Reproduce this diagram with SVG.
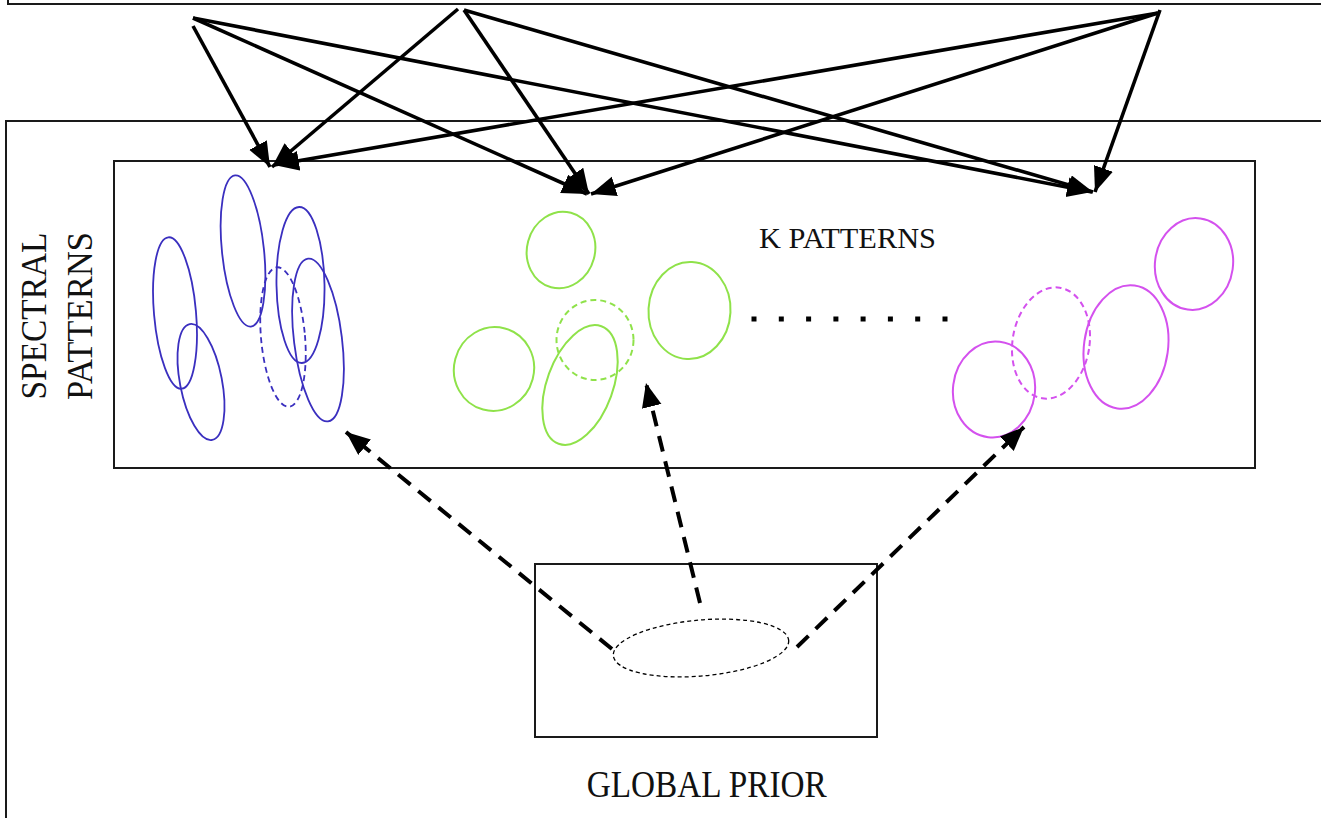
<svg xmlns="http://www.w3.org/2000/svg" width="1321" height="818" viewBox="0 0 1321 818">
<style>
.box{fill:none;stroke:#1a1a1a;stroke-width:2}
.lbl{font-family:"Liberation Serif","DejaVu Serif",serif;fill:#111}
.sol{fill:none;stroke:#000;stroke-width:3.6;marker-end:url(#ah)}
.dsh{fill:none;stroke:#000;stroke-width:4;stroke-dasharray:16 10;marker-end:url(#ah2)}
.bl{fill:none;stroke:#3a2fbf;stroke-width:1.8}
.gr{fill:none;stroke:#8fe24a;stroke-width:2}
.mg{fill:none;stroke:#d451ee;stroke-width:2}
.dd{stroke-dasharray:6 4}
</style>
<defs>
<marker id="ah" markerUnits="userSpaceOnUse" markerWidth="28" markerHeight="22" refX="25" refY="10" orient="auto"><path d="M0,0 L25,10 L0,20 z" fill="#000"/></marker>
<marker id="ah2" markerUnits="userSpaceOnUse" markerWidth="28" markerHeight="22" refX="24" refY="10" orient="auto"><path d="M0,0 L24,10 L0,20 z" fill="#000"/></marker>
</defs>
<rect width="1321" height="818" fill="#fff"/>
<g id="top-box"><rect class="box" x="8" y="-10" width="1330" height="14"/></g>
<g id="outer-box"><rect class="box" x="6" y="121" width="1330" height="710"/></g>
<g id="spectral-patterns">
<rect class="box" x="114" y="161" width="1141" height="307"/>
<text class="lbl" font-size="36" text-anchor="middle" transform="translate(46,316) rotate(-90)" textLength="167" lengthAdjust="spacingAndGlyphs">SPECTRAL</text>
<text class="lbl" font-size="36" text-anchor="middle" transform="translate(92,316) rotate(-90)" textLength="168" lengthAdjust="spacingAndGlyphs">PATTERNS</text>
<text class="lbl" x="759" y="248" font-size="30" textLength="177" lengthAdjust="spacingAndGlyphs">K PATTERNS</text>
</g>
<g id="blue-pattern">
<ellipse class="bl" cx="175" cy="313" rx="21" ry="76" transform="rotate(-5 175 313)"/>
<ellipse class="bl" cx="201" cy="382" rx="21" ry="59" transform="rotate(-11 201 382)"/>
<ellipse class="bl" cx="243" cy="251" rx="21" ry="76" transform="rotate(-6 243 251)"/>
<ellipse class="bl dd" cx="283" cy="337" rx="22" ry="70" transform="rotate(-5 283 337)"/>
<ellipse class="bl" cx="300.5" cy="285" rx="24" ry="78" transform="rotate(-1 300.5 285)"/>
<ellipse class="bl" cx="318" cy="340" rx="24" ry="82" transform="rotate(-7 318 340)"/>
</g>
<g id="green-pattern">
<ellipse class="gr" cx="561" cy="250" rx="34" ry="38.5" transform="rotate(15 561 250)"/>
<ellipse class="gr" cx="494" cy="369" rx="40" ry="42" transform="rotate(15 494 369)"/>
<ellipse class="gr dd" cx="595" cy="340" rx="38.5" ry="40"/>
<ellipse class="gr" cx="580" cy="385" rx="33" ry="62.5" transform="rotate(20 580 385)"/>
<ellipse class="gr" cx="689.5" cy="310.5" rx="41" ry="48.5" transform="rotate(3 689.5 310.5)"/>
</g>
<g id="dots">
<rect x="751.5" y="316.5" width="5" height="5"/><rect x="778.8" y="316.5" width="5" height="5"/><rect x="806.1" y="316.5" width="5" height="5"/><rect x="833.4" y="316.5" width="5" height="5"/><rect x="860.6" y="316.5" width="5" height="5"/><rect x="887.9" y="316.5" width="5" height="5"/><rect x="915.2" y="316.5" width="5" height="5"/><rect x="942.5" y="316.5" width="5" height="5"/>
</g>
<g id="magenta-pattern">
<ellipse class="mg" cx="1194" cy="264" rx="39" ry="46" transform="rotate(8 1194 264)"/>
<ellipse class="mg" cx="1126" cy="347" rx="42" ry="62" transform="rotate(8 1126 347)"/>
<ellipse class="mg dd" cx="1051" cy="343" rx="38.5" ry="56" transform="rotate(9 1051 343)"/>
<ellipse class="mg" cx="994" cy="389.5" rx="41" ry="48" transform="rotate(7 994 389.5)"/>
</g>
<g id="global-prior">
<rect class="box" x="535" y="564" width="342" height="173"/>
<ellipse cx="701" cy="648" rx="88" ry="28" transform="rotate(-5 701 648)" fill="none" stroke="#000" stroke-width="1.3" stroke-dasharray="4 3"/>
<text class="lbl" x="706.7" y="797" font-size="37" text-anchor="middle" textLength="240" lengthAdjust="spacingAndGlyphs">GLOBAL PRIOR</text>
</g>
<g id="connectors">
<line class="sol" x1="193" y1="26" x2="270" y2="167"/>
<line class="sol" x1="193" y1="18" x2="587" y2="194"/>
<line class="sol" x1="193" y1="18" x2="1092" y2="192"/>
<line class="sol" x1="458" y1="9" x2="272" y2="167"/>
<line class="sol" x1="464" y1="10" x2="589" y2="194"/>
<line class="sol" x1="464" y1="10" x2="1093" y2="192"/>
<line class="sol" x1="1158" y1="13" x2="274" y2="165"/>
<line class="sol" x1="1158" y1="13" x2="591" y2="194"/>
<line class="sol" x1="1160" y1="10" x2="1095" y2="192"/>
<line class="dsh" x1="612" y1="649" x2="346" y2="432"/>
<line class="dsh" x1="700" y1="603" x2="646" y2="383"/>
<line class="dsh" x1="797" y1="647" x2="1024" y2="427"/>
</g>
</svg>
